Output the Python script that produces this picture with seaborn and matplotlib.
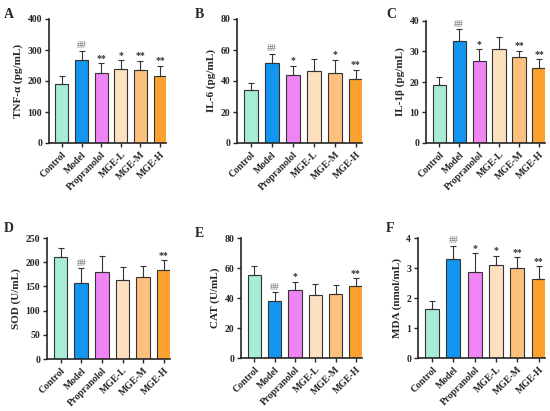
import numpy as np
import matplotlib
matplotlib.use("Agg")
import matplotlib.pyplot as plt
import pandas as pd
import seaborn as sns

groups = ["Control", "Model", "Propranolol", "MGE-L", "MGE-M", "MGE-H"]
colors = ["#a6ecd6", "#1296f0", "#f184f4", "#fde0c0", "#fdc07e", "#fca030"]

# means and upper error (SD)
tnf_mean = [190, 268, 227, 238, 234, 217]
tnf_sd = [26, 29, 30, 29, 31, 31]
tnf_sig = ["", "##", "**", "*", "**", "**"]

il6_mean = [34.4, 51.4, 43.9, 46.5, 45.4, 41.1]
il6_sd = [4.3, 6.2, 5.8, 7.9, 8.1, 6.0]
il6_sig = ["", "##", "*", "", "*", "**"]

il1b_mean = [19.0, 33.3, 27.0, 30.8, 28.1, 24.6]
il1b_sd = [2.8, 4.0, 3.7, 3.9, 2.2, 2.8]
il1b_sig = ["", "##", "*", "", "**", "**"]

sod_mean = [211, 157, 179, 163, 170, 183]
sod_sd = [18, 30, 33, 27, 22, 21]
sod_sig = ["", "##", "", "", "", "**"]

cat_mean = [55.3, 37.8, 45.1, 42.2, 42.9, 47.8]
cat_sd = [6.3, 6.0, 5.6, 7.1, 5.8, 5.3]
cat_sig = ["", "##", "*", "", "", "**"]

mda_mean = [1.62, 3.31, 2.86, 3.09, 2.99, 2.64]
mda_sd = [0.27, 0.43, 0.63, 0.32, 0.37, 0.42]
mda_sig = ["", "##", "*", "*", "**", "**"]

panels = [
    ("A", "TNF-α (pg/mL)", tnf_mean, tnf_sd, tnf_sig, 400, 100, (49, 19, 166, 143), (4, 14)),
    ("B", "IL-6 (pg/mL)", il6_mean, il6_sd, il6_sig, 80, 20, (237, 19, 362, 143), (195, 14)),
    ("C", "IL-1β (pg/mL)", il1b_mean, il1b_sd, il1b_sig, 40, 10, (426, 21, 545, 143), (386, 14)),
    ("D", "SOD (U/mL)", sod_mean, sod_sd, sod_sig, 250, 50, (47, 238, 170, 359), (4, 228)),
    ("E", "CAT (U/mL)", cat_mean, cat_sd, cat_sig, 80, 20, (241, 238, 362, 358), (195, 233)),
    ("F", "MDA (nmol/mL)", mda_mean, mda_sd, mda_sig, 4, 1, (418, 238, 545, 358), (386, 228)),
]

sns.set_style("ticks")
plt.rcParams["font.family"] = ["Liberation Serif", "DejaVu Serif"]
plt.rcParams["font.weight"] = "bold"

W, H = 550, 411
fig = plt.figure(figsize=(5.5, 4.11), dpi=100)

for letter, ylab, mean, sd, sig, ymax, step, box, lpos in panels:
    x0, y0, x1, y1 = box
    ax = fig.add_axes([x0 / W, 1 - y1 / H, (x1 - x0) / W, (y1 - y0) / H])
    df = pd.DataFrame({"group": groups, "value": mean})
    sns.barplot(data=df, x="group", y="value", hue="group", palette=colors,
                saturation=1, edgecolor="#333333", linewidth=0.8, width=0.66,
                legend=False, ax=ax)
    ax.errorbar(range(len(groups)), mean, yerr=[np.zeros(len(sd)), sd], fmt="none",
                ecolor="#333333", elinewidth=0.8, capsize=2.5, capthick=0.8)
    for i, s in enumerate(sig):
        if s:
            c = "#8a8a8a" if s.startswith("#") else "#333333"
            ax.text(i, mean[i] + sd[i] + ymax * 0.005, s, ha="center", va="bottom",
                    fontsize=7, color=c, fontweight="bold")
    ax.set_ylim(0, ymax)
    ax.set_yticks(np.arange(0, ymax + step / 2, step))
    ax.set_xlim(-0.66, 5.3)
    ax.set_xlabel("")
    ax.set_ylabel(ylab, fontsize=8, fontweight="bold", labelpad=3)
    ax.set_xticks(range(len(groups)))
    ax.set_xticklabels(groups, rotation=45, ha="right", rotation_mode="anchor",
                       fontsize=7, fontweight="bold")
    ax.tick_params(axis="both", labelsize=7, length=3, width=1, pad=2)
    for t in ax.get_yticklabels():
        t.set_fontweight("bold")
    for sp in ["left", "bottom"]:
        ax.spines[sp].set_linewidth(1.2)
    sns.despine(ax=ax)
    fig.text(lpos[0] / W, 1 - lpos[1] / H, letter, fontsize=10, fontweight="bold",
             va="center", ha="left")

fig.savefig("out.png", dpi=100, facecolor="white")
